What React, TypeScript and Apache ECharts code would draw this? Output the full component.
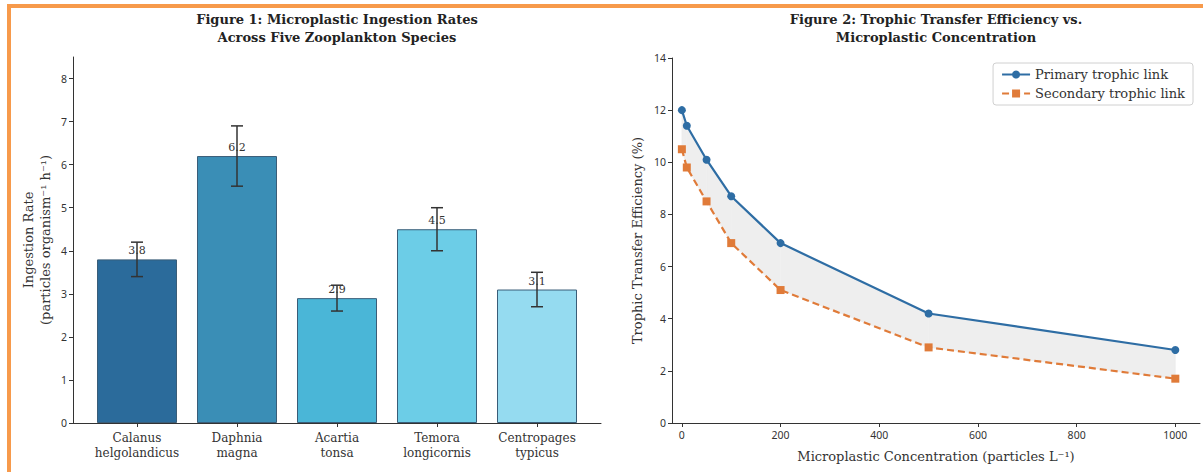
import React, { useEffect, useRef } from "react";
import * as echarts from "echarts";

const species = [
  "Calanus helgolandicus",
  "Daphnia magna",
  "Acartia tonsa",
  "Temora longicornis",
  "Centropages typicus",
];
const ingestionRates = [3.8, 6.2, 2.9, 4.5, 3.1];
const ingestionErrors = [0.4, 0.7, 0.3, 0.5, 0.4];
const barColors = ["#2b6b9b", "#3a8eb6", "#4ab6d7", "#6ccde7", "#95dbf0"];
const barTicks = [0, 1, 2, 3, 4, 5, 6, 7, 8];

const concentrations = [0, 10, 50, 100, 200, 500, 1000];
const primaryEff = [12.0, 11.4, 10.1, 8.7, 6.9, 4.2, 2.8];
const secondaryEff = [10.5, 9.8, 8.5, 6.9, 5.1, 2.9, 1.7];
const concTicks = [0, 200, 400, 600, 800, 1000];

const SERIF = "'DejaVu Serif', 'Liberation Serif', serif";
const SANS = "'Noto Sans', 'DejaVu Sans', sans-serif";

export default function App() {
  const ref = useRef<HTMLDivElement>(null);
  useEffect(() => {
    if (!ref.current) return;
    const chart = echarts.init(ref.current, null, { renderer: "svg" });
    const axisLine = { show: true, onZero: false, lineStyle: { color: "#333", width: 1 } };
    const axisTick = { show: true, length: 4, lineStyle: { color: "#333" } };
    const tickLabel = {
      color: "#333",
      fontFamily: SANS,
      fontSize: 10.5,
      margin: 6,
      formatter: (v: number) => String(v),
    };

    const bandData = concentrations.slice(0, -1).map((x, i) => [
      x,
      concentrations[i + 1],
      primaryEff[i],
      primaryEff[i + 1],
      secondaryEff[i],
      secondaryEff[i + 1],
    ]);

    const option: any = {
      animation: false,
      backgroundColor: "#ffffff",
      graphic: [
        {
          type: "text",
          left: 337 - 200,
          top: 10,
          style: {
            text: "Figure 1: Microplastic Ingestion Rates\nAcross Five Zooplankton Species",
            fontFamily: SERIF,
            fontWeight: "bold",
            fontSize: 13,
            lineHeight: 18,
            fill: "#222",
            textAlign: "center",
            x: 200,
            width: 400,
          },
        },
        {
          type: "text",
          left: 936 - 250,
          top: 10,
          style: {
            text: "Figure 2: Trophic Transfer Efficiency vs.\nMicroplastic Concentration",
            fontFamily: SERIF,
            fontWeight: "bold",
            fontSize: 13,
            lineHeight: 18,
            fill: "#222",
            textAlign: "center",
            x: 250,
            width: 500,
          },
        },
      ],
      legend: {
        show: true,
        right: 10,
        top: 63,
        orient: "vertical",
        data: ["Primary trophic link", "Secondary trophic link"],
        backgroundColor: "#fff",
        borderColor: "#d0d0d0",
        borderWidth: 1,
        borderRadius: 3,
        padding: [5, 8, 5, 8],
        itemGap: 6,
        itemWidth: 28,
        itemHeight: 10,
        textStyle: { fontFamily: SERIF, fontSize: 13, color: "#333" },
      },
      grid: [
        { left: 73, right: 602, top: 57, bottom: 49 },
        { left: 672, right: 3, top: 58, bottom: 49 },
      ],
      xAxis: [
        {
          type: "value",
          gridIndex: 0,
          min: -0.64,
          max: 4.64,
          splitLine: { show: false },
          axisLine,
          axisTick: { ...axisTick, customValues: [0, 1, 2, 3, 4] },
          axisLabel: {
            color: "#333",
            fontFamily: SERIF,
            fontSize: 12,
            lineHeight: 15,
            margin: 7,
            customValues: [0, 1, 2, 3, 4],
            formatter: (v: number) => species[Math.round(v)].replace(" ", "\n"),
          },
        },
        {
          type: "value",
          gridIndex: 1,
          min: -20,
          max: 1050,
          splitLine: { show: false },
          axisLine,
          axisTick: { ...axisTick, customValues: concTicks },
          axisLabel: { ...tickLabel, customValues: concTicks },
          name: "Microplastic Concentration (particles L⁻¹)",
          nameLocation: "middle",
          nameGap: 27,
          nameTextStyle: { fontFamily: SERIF, fontSize: 13, color: "#333" },
        },
      ],
      yAxis: [
        {
          type: "value",
          gridIndex: 0,
          min: 0,
          max: 8.5,
          splitLine: { show: false },
          axisLine,
          axisTick: { ...axisTick, customValues: barTicks },
          axisLabel: { ...tickLabel, customValues: barTicks },
          name: "Ingestion Rate\n(particles organism⁻¹ h⁻¹)",
          nameLocation: "middle",
          nameGap: 19,
          nameTextStyle: { fontFamily: SERIF, fontSize: 13, color: "#333", lineHeight: 17 },
        },
        {
          type: "value",
          gridIndex: 1,
          min: 0,
          max: 14,
          interval: 2,
          splitLine: { show: false },
          axisLine,
          axisTick,
          axisLabel: tickLabel,
          name: "Trophic Transfer Efficiency (%)",
          nameLocation: "middle",
          nameGap: 28,
          nameTextStyle: { fontFamily: SERIF, fontSize: 13, color: "#333" },
        },
      ],
      series: [
        {
          type: "bar",
          xAxisIndex: 0,
          yAxisIndex: 0,
          barWidth: 80,
          data: ingestionRates.map((v, i) => ({
            value: [i, v],
            itemStyle: { color: barColors[i], borderColor: "#3a5d78", borderWidth: 1 },
          })),
          label: {
            show: true,
            position: "top",
            distance: 3,
            fontFamily: SERIF,
            fontSize: 11,
            color: "#333",
            formatter: (p: any) => p.value[1].toFixed(1),
          },
        },
        {
          type: "custom",
          xAxisIndex: 0,
          yAxisIndex: 0,
          z: 5,
          encode: { x: 0, y: [1, 2] },
          data: ingestionRates.map((v, i) => [
            i,
            +(v - ingestionErrors[i]).toFixed(2),
            +(v + ingestionErrors[i]).toFixed(2),
          ]),
          renderItem: (params: any, api: any) => {
            const lo = api.coord([api.value(0), api.value(1)]);
            const hi = api.coord([api.value(0), api.value(2)]);
            const cap = 6;
            return {
              type: "group",
              children: [
                {
                  type: "line",
                  shape: { x1: lo[0], y1: lo[1], x2: hi[0], y2: hi[1] },
                  style: { stroke: "#333", lineWidth: 1.5 },
                },
                {
                  type: "line",
                  shape: { x1: lo[0] - cap, y1: lo[1], x2: lo[0] + cap, y2: lo[1] },
                  style: { stroke: "#333", lineWidth: 1.5 },
                },
                {
                  type: "line",
                  shape: { x1: hi[0] - cap, y1: hi[1], x2: hi[0] + cap, y2: hi[1] },
                  style: { stroke: "#333", lineWidth: 1.5 },
                },
              ],
            };
          },
        },
        {
          type: "custom",
          xAxisIndex: 1,
          yAxisIndex: 1,
          z: 1,
          silent: true,
          encode: { x: [0, 1], y: [2, 3, 4, 5] },
          data: bandData,
          renderItem: (params: any, api: any) => {
            const x0 = api.value(0);
            const x1 = api.value(1);
            const pts = [
              api.coord([x0, api.value(2)]),
              api.coord([x1, api.value(3)]),
              api.coord([x1, api.value(5)]),
              api.coord([x0, api.value(4)]),
            ];
            return {
              type: "polygon",
              shape: { points: pts },
              style: { fill: "#eeeeee", stroke: "#eeeeee", lineWidth: 0.6 },
            };
          },
        },
        {
          name: "Primary trophic link",
          type: "line",
          xAxisIndex: 1,
          yAxisIndex: 1,
          symbol: "circle",
          symbolSize: 8,
          color: "#2e6da4",
          lineStyle: { color: "#2e6da4", width: 2.2 },
          itemStyle: { color: "#2e6da4" },
          data: concentrations.map((x, i) => [x, primaryEff[i]]),
          z: 3,
        },
        {
          name: "Secondary trophic link",
          type: "line",
          xAxisIndex: 1,
          yAxisIndex: 1,
          symbol: "rect",
          symbolSize: 8,
          color: "#e07b39",
          lineStyle: { color: "#e07b39", width: 2.2, type: [7, 4] },
          itemStyle: { color: "#e07b39" },
          data: concentrations.map((x, i) => [x, secondaryEff[i]]),
          z: 3,
        },
      ],
    };
    chart.setOption(option);
    return () => chart.dispose();
  }, []);

  return (
    <div style={{ position: "fixed", left: 0, top: 0, width: 1203, height: 472, background: "#fff", overflow: "hidden" }}>
      <div ref={ref} style={{ position: "absolute", left: 0, top: 0, width: 1203, height: 472 }} />
      <div
        style={{
          position: "absolute",
          left: 7,
          top: 4,
          width: 1400,
          height: 800,
          borderLeft: "4px solid #f79a4b",
          borderTop: "4px solid #f79a4b",
          pointerEvents: "none",
        }}
      />
    </div>
  );
}
